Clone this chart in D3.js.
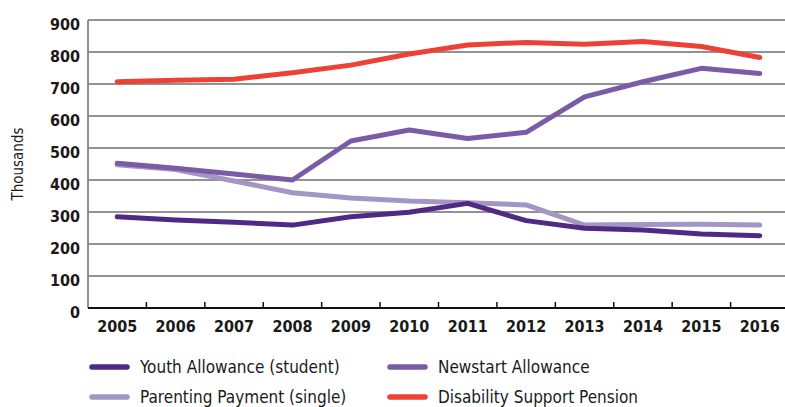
<!DOCTYPE html>
<html>
<head>
<meta charset="utf-8">
<script src="https://cdn.jsdelivr.net/npm/d3@7"></script>
<style>
  body { margin: 0; background: #fff; }
  text { font-family: "DejaVu Sans Condensed", "DejaVu Sans", sans-serif; fill: #1a1a1a; }
</style>
</head>
<body>
<div id="chart"></div>
<script>
// data (thousands)
var years = ['2005','2006','2007','2008','2009','2010','2011','2012','2013','2014','2015','2016'];
var yTicks = [0,100,200,300,400,500,600,700,800,900];

var youthAllowance = [285,275,268,259,285,299,327,273,249,244,231,226];
var newstart       = [452,437,419,400,522,556,530,549,660,707,749,733];
var parenting      = [448,433,397,360,344,334,329,322,259,261,262,259];
var disability     = [707,712,715,735,759,794,822,830,824,833,817,783];

var seriesNames  = ['Youth Allowance (student)','Newstart Allowance','Parenting Payment (single)','Disability Support Pension'];
var seriesColors = ['#4e2a84','#7a5ba6','#a395c4','#ee4136'];
var seriesValues = [youthAllowance, newstart, parenting, disability];

function draw_chart(chartId)
{
let width = 785, height = 407;
let margin = {top: 20, left: 88, right: 785, bottom: 308};

let svg = d3.select(`#${chartId}`)
  .append("svg")
  .attr("width", width)
  .attr("height", height);

var x = d3.scaleBand().domain(years).range([margin.left, 789]);
var y = d3.scaleLinear().domain([0, 900]).range([margin.bottom, margin.top]);

// gridlines
svg.append("g")
  .selectAll("line")
  .data(yTicks.filter(d => d > 0))
  .enter()
  .append("line")
  .attr("x1", margin.left)
  .attr("x2", width)
  .attr("y1", d => y(d))
  .attr("y2", d => y(d))
  .attr("stroke", "#6e6e6e")
  .attr("stroke-width", 1.6);

// y axis line
svg.append("line")
  .attr("x1", margin.left).attr("x2", margin.left)
  .attr("y1", y(900)).attr("y2", y(0))
  .attr("stroke", "#777").attr("stroke-width", 1.6);

// y labels
svg.append("g")
  .selectAll("text")
  .data(yTicks)
  .enter()
  .append("text")
  .attr("x", 80)
  .attr("y", d => y(d) + 10)
  .attr("text-anchor", "end")
  .style("font-size", "16px")
  .style("font-weight", "bold")
  .text(d => d);

// x axis
svg.append("line")
  .attr("x1", margin.left).attr("x2", width)
  .attr("y1", y(0)).attr("y2", y(0))
  .attr("stroke", "#111").attr("stroke-width", 2);

svg.append("g")
  .selectAll("line")
  .data(years.slice(1))
  .enter()
  .append("line")
  .attr("x1", d => x(d)).attr("x2", d => x(d))
  .attr("y1", y(0) - 6).attr("y2", y(0))
  .attr("stroke", "#111").attr("stroke-width", 1.5);

svg.append("g")
  .selectAll("text")
  .data(years)
  .enter()
  .append("text")
  .attr("x", d => x(d) + x.bandwidth() / 2)
  .attr("y", 332)
  .attr("text-anchor", "middle")
  .style("font-size", "16px")
  .style("font-weight", "bold")
  .text(d => d);

// axis title
svg.append("text")
  .attr("transform", "translate(23,164) rotate(-90)")
  .attr("text-anchor", "middle")
  .style("font-size", "15px")
  .text("Thousands");

// lines
var line = d3.line()
  .x((d, i) => x(years[i]) + x.bandwidth() / 2)
  .y(d => y(d));

svg.append("g")
  .selectAll("path")
  .data([2, 0, 1, 3])
  .enter()
  .append("path")
  .attr("d", i => line(seriesValues[i]))
  .attr("fill", "none")
  .attr("stroke", i => seriesColors[i])
  .attr("stroke-width", 5)
  .attr("stroke-linecap", "round")
  .attr("stroke-linejoin", "round");

// legend
var legX = [92, 390], legY = [367, 397];
let leg = svg.append("g")
  .selectAll("g")
  .data(seriesNames)
  .enter()
  .append("g")
  .attr("transform", (d, i) => "translate(" + legX[i % 2] + "," + legY[Math.floor(i / 2)] + ")");

leg.append("line")
  .attr("x1", 0).attr("x2", 35)
  .attr("y1", 0).attr("y2", 0)
  .attr("stroke", (d, i) => seriesColors[i])
  .attr("stroke-width", 5.5)
  .attr("stroke-linecap", "round");

leg.append("text")
  .attr("x", 48)
  .attr("y", 6)
  .style("font-size", "17px")
  .text(d => d);
}

draw_chart("chart");
</script>
</body>
</html>
